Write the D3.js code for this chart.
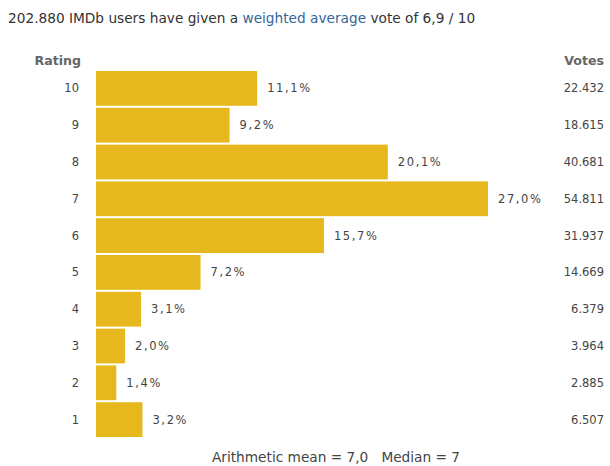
<!DOCTYPE html>
<html><head><meta charset="utf-8">
<script src="https://cdn.jsdelivr.net/npm/d3@7"></script>
<style>
html,body{margin:0;padding:0;background:#fff;}
svg{display:block;font-family:"DejaVu Sans",Verdana,sans-serif;}
</style></head>
<body><svg id="c" width="610" height="466"></svg>
<script>
const ratings = [10, 9, 8, 7, 6, 5, 4, 3, 2, 1];
const percents = [11.1, 9.2, 20.1, 27.0, 15.7, 7.2, 3.1, 2.0, 1.4, 3.2];
const votes = [22432, 18615, 40681, 54811, 31937, 14669, 6379, 3964, 2885, 6507];
const totalVotes = 202880;
const weightedAvg = 6.9;
const arithMean = 7.0;
const median = 7;

const data = ratings.map((r, i) => ({rating: r, pct: percents[i], votes: votes[i]}));
const svg = d3.select("#c");
const fmtComma1 = v => d3.format(".1f")(v).replace(".", ",");
const fmtThousands = d3.formatLocale({decimal: ",", thousands: ".", grouping: [3], currency: ["", ""]}).format(",d");

const x = d3.scaleLinear().domain([0, 27]).range([96, 488]);
const y = d3.scaleBand().domain(ratings).range([71, 437]).paddingInner(0.055);

// title
const title = svg.append("text").attr("x", 8).attr("y", 23)
  .attr("font-size", 13.7).attr("fill", "#333");
title.append("tspan").text(fmtThousands(totalVotes) + " IMDb users have given a ");
title.append("tspan").attr("fill", "#336699").text("weighted average");
title.append("tspan").text(" vote of " + fmtComma1(weightedAvg) + " / 10");

// headers
svg.append("text").attr("x", 81).attr("y", 65).attr("text-anchor", "end")
  .attr("font-size", 12.6).attr("font-weight", "bold").attr("fill", "#666").text("Rating");
svg.append("text").attr("x", 604).attr("y", 65).attr("text-anchor", "end")
  .attr("font-size", 12.6).attr("font-weight", "bold").attr("fill", "#666").text("Votes");

// bars
svg.append("g").selectAll("rect").data(data).join("rect")
  .attr("x", x(0)).attr("y", d => y(d.rating))
  .attr("width", d => x(d.pct) - x(0)).attr("height", y.bandwidth())
  .attr("fill", "#e6b81e");

// rating labels
svg.append("g").selectAll("text").data(data).join("text")
  .attr("x", 79).attr("y", d => y(d.rating) + y.bandwidth() / 2)
  .attr("dy", "0.35em").attr("text-anchor", "end")
  .attr("font-size", 11.5).attr("fill", "#444").text(d => d.rating);

// percent labels
svg.append("g").selectAll("text").data(data).join("text")
  .attr("x", d => x(d.pct) + 10).attr("y", d => y(d.rating) + y.bandwidth() / 2)
  .attr("dy", "0.35em").attr("font-size", 11.5).attr("letter-spacing", 1.6)
  .attr("fill", "#444").text(d => fmtComma1(d.pct) + "%");

// votes
svg.append("g").selectAll("text").data(data).join("text")
  .attr("x", 604).attr("y", d => y(d.rating) + y.bandwidth() / 2)
  .attr("dy", "0.35em").attr("text-anchor", "end")
  .attr("font-size", 11.5).attr("fill", "#444").text(d => fmtThousands(d.votes));

// footer
svg.append("text").attr("x", 336).attr("y", 462).attr("text-anchor", "middle")
  .attr("font-size", 13.7).attr("fill", "#444").attr("xml:space", "preserve")
  .text("Arithmetic mean = " + fmtComma1(arithMean) + "   Median = " + median);
</script></body></html>
